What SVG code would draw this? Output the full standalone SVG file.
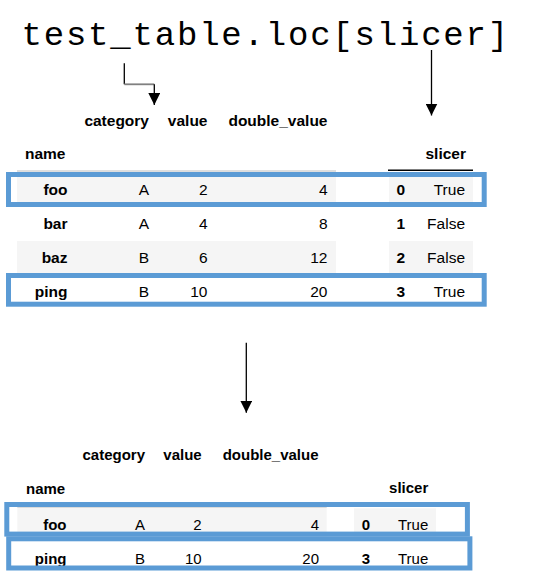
<svg xmlns="http://www.w3.org/2000/svg" width="539" height="584" viewBox="0 0 539 584">
<style>
.t{font-family:"Liberation Sans",Arial,sans-serif;fill:#000}
.t1{font-size:15.5px}
.t2{font-size:15px}
.b{font-weight:bold}
.e{text-anchor:end}
.bg{fill:#f5f5f5}
.sel{fill:none;stroke:#5b9bd5;stroke-width:5}
.ln{fill:none;stroke:#000;stroke-width:1.3}
</style>
<defs>
<marker id="ah" markerWidth="12" markerHeight="12" refX="12" refY="6" orient="auto" markerUnits="userSpaceOnUse" viewBox="0 0 12 12">
<path d="M0,0 L12,6 L0,12 Z" fill="#000"/>
</marker>
</defs>
<rect width="539" height="584" fill="#fff"/>
<g id="title">
<text x="21.5" y="45" font-family="'Liberation Mono','Courier New',monospace" font-size="34" letter-spacing="1.8" fill="#000">test_table.loc[slicer]</text>
</g>
<g id="table1">
<rect class="bg" x="17" y="172" width="319" height="34"/>
<rect class="bg" x="389" y="172" width="84" height="34"/>
<rect class="bg" x="17" y="241" width="319" height="34"/>
<rect class="bg" x="389" y="241" width="84" height="34"/>
<line x1="17" y1="171" x2="336" y2="171" stroke="#bdbdbd" stroke-width="1"/>
<line x1="388" y1="170.3" x2="473" y2="170.3" stroke="#000" stroke-width="1.5"/>
<g class="t t1 b e">
<text x="149" y="126">category</text>
<text x="207.5" y="126">value</text>
<text x="327.5" y="126">double_value</text>
<text x="466" y="158.5">slicer</text>
<text x="67.5" y="195">foo</text>
<text x="67.5" y="229">bar</text>
<text x="67.5" y="263">baz</text>
<text x="67.5" y="297">ping</text>
<text x="405" y="195">0</text>
<text x="405" y="229">1</text>
<text x="405" y="263">2</text>
<text x="405" y="297">3</text>
</g>
<text class="t t1 b" x="25" y="158.5">name</text>
<g class="t t1 e">
<text x="149" y="195">A</text><text x="207.5" y="195">2</text><text x="327.5" y="195">4</text><text x="465" y="195">True</text>
<text x="149" y="229">A</text><text x="207.5" y="229">4</text><text x="327.5" y="229">8</text><text x="465" y="229">False</text>
<text x="149" y="263">B</text><text x="207.5" y="263">6</text><text x="327.5" y="263">12</text><text x="465" y="263">False</text>
<text x="149" y="297">B</text><text x="207.5" y="297">10</text><text x="327.5" y="297">20</text><text x="465" y="297">True</text>
</g>
</g>
<g id="table2">
<rect class="bg" x="17.3" y="507.3" width="309.4" height="30"/>
<rect class="bg" x="354" y="508.3" width="82" height="29"/>
<line x1="17.3" y1="507" x2="326.7" y2="507" stroke="#bdbdbd" stroke-width="1"/>
<g class="t t2 b e">
<text x="145" y="459.5">category</text>
<text x="201.7" y="459.5">value</text>
<text x="318.5" y="459.5">double_value</text>
<text x="428.3" y="493">slicer</text>
<text x="66.5" y="530">foo</text>
<text x="66.5" y="563.5">ping</text>
<text x="370" y="530">0</text>
<text x="370" y="563.5">3</text>
</g>
<text class="t t2 b" x="26" y="494">name</text>
<g class="t t2 e">
<text x="145" y="530">A</text><text x="201.7" y="530">2</text><text x="319" y="530">4</text><text x="428.3" y="530">True</text>
<text x="145" y="563.5">B</text><text x="201.7" y="563.5">10</text><text x="319" y="563.5">20</text><text x="428.3" y="563.5">True</text>
</g>
</g>
<g id="selections">
<rect id="sel-foo-1" class="sel" x="8.5" y="174.5" width="475.7" height="30"/>
<rect id="sel-ping-1" class="sel" x="8.5" y="275.5" width="475.7" height="28.7"/>
<rect id="sel-foo-2" class="sel" x="6.8" y="504.5" width="460.6" height="29.6" stroke-width="5.5"/>
<rect id="sel-ping-2" class="sel" x="8.7" y="538.8" width="461.2" height="29.2" stroke-width="5.5"/>
</g>
<g id="connectors">
<path class="ln" d="M124.3,63.3 V84.3"/>
<path d="M124.3,84.3 H154.3" fill="none" stroke="#808080" stroke-width="1.8"/>
<path class="ln" d="M154.3,84.3 V105" marker-end="url(#ah)"/>
<path class="ln" d="M431.5,50 V115.5" marker-end="url(#ah)"/>
<path class="ln" d="M246.3,342.7 V412.7" marker-end="url(#ah)"/>
</g>
</svg>
